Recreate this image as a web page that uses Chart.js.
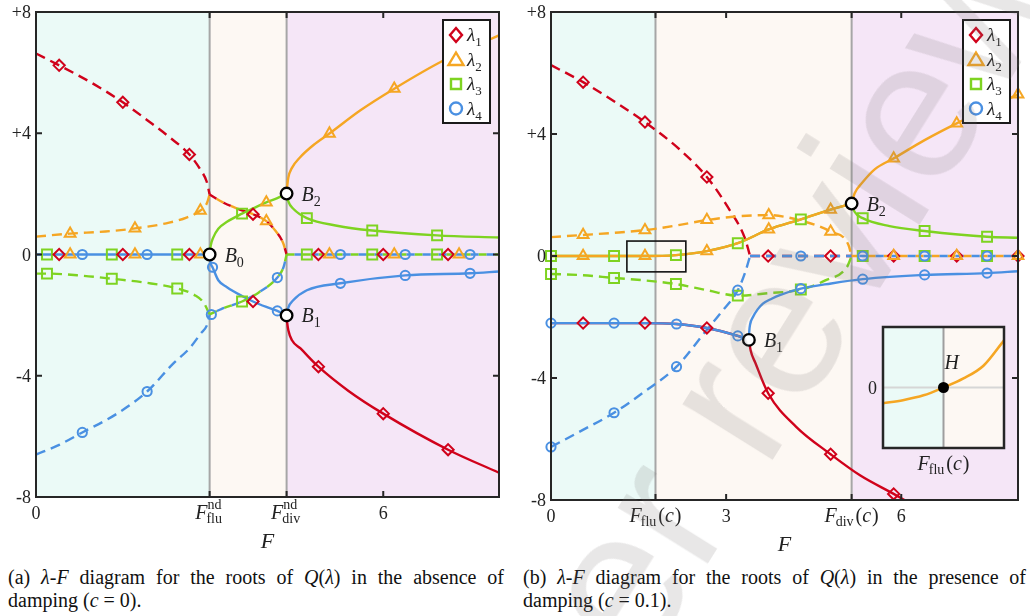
<!DOCTYPE html>
<html>
<head>
<meta charset="utf-8">
<script src="https://cdn.jsdelivr.net/npm/chart.js@4.4.1/dist/chart.umd.min.js"></script>
<style>
  body { margin: 0; width: 1030px; height: 616px; overflow: hidden; position: relative; background: #fff; font-family: "Liberation Serif", serif; }
  canvas { position: absolute; }
  #cL { left: 0; top: 0; }
  #cR { left: 515px; top: 0; }
  #cI { left: 865px; top: 320px; }
  .cap { position: absolute; top: 566px; font-size: 20px; line-height: 23px; text-align: justify; color: #111; }
  #capA { left: 8px; width: 496px; }
  #capB { left: 523px; width: 503px; }
  #wm { position: absolute; left: 512px; top: 708px; font: 200px "Liberation Sans", sans-serif; line-height: 200px;
        white-space: nowrap; color: rgba(120, 110, 115, 0.17); transform-origin: 0 169px; transform: rotate(-58deg); pointer-events: none; }
</style>
</head>
<body>
<canvas id="cL" width="515" height="560"></canvas>
<canvas id="cR" width="515" height="560"></canvas>
<canvas id="cI" width="150" height="160"></canvas>
<div class="cap" id="capA">(a) <i>λ</i>-<i>F</i> diagram for the roots of <i>Q</i>(<i>λ</i>) in the absence of damping (<i>c</i> = 0).</div>
<div class="cap" id="capB">(b) <i>λ</i>-<i>F</i> diagram for the roots of <i>Q</i>(<i>λ</i>) in the presence of damping (<i>c</i> = 0.1).</div>
<div id="wm">Peer review</div>
<script>
// ---------------------------------------------------------------------
// colori / stili delle 4 radici
// ---------------------------------------------------------------------
const RED = '#d0021b', ORANGE = '#f5a623', GREEN = '#7ed321', BLUE = '#4a90e2';
const SERIES_COLORS = [RED, ORANGE, GREEN, BLUE];
const SERIES_STYLES = ['rectRot', 'triangle', 'rect', 'circle'];
const SERIES_SUBS   = ['1', '2', '3', '4'];
const REGION_COLORS = ['#ebfaf7', '#fdf8f3', '#f5e6f7'];

const Y_TICKS       = [-8, -4, 0, 4, 8];
const Y_TICK_LABELS = ['-8', '-4', '0', '+4', '+8'];

// ---------------------------------------------------------------------
// (a) c = 0   -- punti [F, lambda]
// ---------------------------------------------------------------------
const L_REGIONS = [0, 3, 4.33, 8];
const L_XTICKS  = [0, 3, 4.33, 6];
const L_XLABELS = ['0', 'flu|nd', 'div|nd', '6'];

const L_RED_IM_A = [[0,6.63],[0.4,6.24],[1.0,5.62],[1.5,5.02],[2.0,4.32],[2.3,3.88],[2.65,3.3],[2.84,2.8],[2.95,2.4],[3.0,1.98]];
const L_ORG_IM_A = [[0,0.59],[0.59,0.69],[1.2,0.76],[1.71,0.86],[2.3,1.05],[2.6,1.22],[2.84,1.45],[2.95,1.68],[3.0,1.98]];
const L_RO_IM_B  = [[3.0,1.98],[3.25,1.7],[3.5,1.5],[3.75,1.33],[3.98,1.1],[4.13,0.8],[4.27,0.38],[4.33,0]];
const L_GRN_IM_A = [[0,-0.63],[0.19,-0.63],[0.8,-0.7],[1.31,-0.8],[1.9,-0.93],[2.44,-1.12],[2.75,-1.35],[2.9,-1.6],[3.0,-1.98]];
const L_BLU_IM_A = [[0,-6.6],[0.4,-6.28],[0.8,-5.87],[1.4,-5.25],[1.92,-4.52],[2.37,-3.6],[2.65,-3.1],[2.84,-2.62],[2.97,-2.25],[3.0,-1.98]];
const L_GB_IM_B  = [[3.0,-1.98],[3.2,-1.8],[3.56,-1.55],[3.85,-1.25],[4.17,-0.76],[4.28,-0.4],[4.33,0]];
const L_ZERO_A   = [[0,0],[3,0]];
const L_ZERO_C   = [[4.33,0],[8,0]];
const L_GRN_RE_B = [[3.0,0],[3.02,0.3],[3.06,0.55],[3.15,0.85],[3.3,1.08],[3.56,1.35],[3.75,1.52],[3.98,1.72],[4.17,1.86],[4.33,2.01]];
const L_BLU_RE_B = [[3.0,0],[3.02,-0.3],[3.05,-0.42],[3.15,-0.85],[3.3,-1.08],[3.56,-1.37],[3.75,-1.55],[3.98,-1.73],[4.17,-1.86],[4.33,-2.01]];
const L_ORG_RE_C = [[4.33,2.01],[4.34,2.25],[4.36,2.54],[4.42,2.85],[4.56,3.2],[4.8,3.62],[5.07,3.99],[5.6,4.75],[6.19,5.47],[7.04,6.4],[8.0,7.23]];
const L_GRN_RE_C = [[4.33,2.01],[4.36,1.75],[4.45,1.5],[4.68,1.2],[5.2,0.95],[5.81,0.79],[6.93,0.63],[8.0,0.56]];
const L_BLU_RE_C = [[4.33,-2.01],[4.36,-1.75],[4.44,-1.52],[4.68,-1.18],[5.26,-0.95],[6.38,-0.69],[7.5,-0.62],[8,-0.56]];
const L_RED_RE_C = [[4.33,-2.01],[4.34,-2.25],[4.36,-2.5],[4.42,-2.82],[4.57,-3.1],[4.88,-3.7],[5.4,-4.5],[6.0,-5.25],[7.12,-6.44],[8,-7.2]];

const L_DIA = [[0.4,0],[1.5,0],[2.65,0],[0.4,6.24],[1.5,5.02],[2.65,3.3],[3.75,1.33],[3.75,-1.55],[4.88,-3.7],[6.0,-5.25],[7.12,-6.44],[4.88,0],[6.0,0],[7.12,0]];
const L_TRI = [[0.59,0],[1.71,0],[2.84,0],[0.59,0.69],[1.71,0.86],[2.84,1.45],[3.98,1.1],[3.98,1.72],[5.07,3.99],[6.19,5.47],[7.3,6.62],[5.07,0],[6.19,0],[7.31,0]];
const L_SQR = [[0.19,0],[1.31,0],[2.44,0],[0.19,-0.63],[1.31,-0.8],[2.44,-1.12],[3.56,-1.55],[3.56,1.35],[4.68,1.2],[5.81,0.79],[6.93,0.63],[4.68,0],[5.81,0],[6.93,0]];
const L_CIR = [[0.8,0],[1.92,0],[0.8,-5.87],[1.92,-4.52],[3.03,-1.98],[3.05,-0.42],[4.17,-0.76],[4.17,-1.86],[5.26,-0.95],[6.38,-0.69],[7.5,-0.62],[5.26,0],[6.38,0],[7.5,0]];

const L_BIF        = [[3,0],[4.33,-2.01],[4.33,2.01]];
const L_BIF_LABELS = ['0', '1', '2'];

// ---------------------------------------------------------------------
// (b) c = 0.1
// ---------------------------------------------------------------------
const R_REGIONS = [0, 1.79, 5.15, 8];
const R_XTICKS  = [0, 1.79, 3, 5.15, 6];
const R_XLABELS = ['0', 'flu|(c)', '3', 'div|(c)', '6'];

const R_RED_IM   = [[0,6.26],[0.55,5.7],[1.1,5.05],[1.61,4.39],[2.2,3.5],[2.67,2.59],[3.03,1.6],[3.32,0.59],[3.41,0]];
const R_BLU_IM   = [[0,-6.26],[0.5,-5.75],[1.08,-5.14],[1.6,-4.45],[2.15,-3.63],[2.67,-2.42],[2.92,-1.84],[3.2,-1.12],[3.32,-0.57],[3.41,0]];
const R_ZERO_B   = [[3.41,0],[5.15,0]];
const R_ZERO_C   = [[5.15,0],[8,0]];
const R_ORG_IM   = [[0,0.62],[0.55,0.69],[1.08,0.76],[1.61,0.85],[2.15,1.0],[2.67,1.18],[3.2,1.3],[3.73,1.34],[4.3,1.15],[4.79,0.8],[5.09,0.39],[5.15,0]];
const R_GRN_IM   = [[0,-0.59],[0.55,-0.63],[1.08,-0.72],[1.6,-0.8],[2.14,-0.92],[2.67,-1.12],[3.2,-1.3],[3.72,-1.22],[4.28,-1.1],[4.7,-0.8],[5.07,-0.36],[5.15,0]];
const R_ORG_RE_A = [[0,0],[0.55,0],[1.08,0],[1.61,0],[2.14,0.03],[2.67,0.16],[3.2,0.42],[3.73,0.87],[4.28,1.2],[4.79,1.52],[5.15,1.72]];
const R_ORG_RE_C = [[5.15,1.72],[5.2,2.05],[5.33,2.4],[5.55,2.85],[5.87,3.2],[6.4,3.8],[6.95,4.35],[7.5,4.85],[8,5.3]];
const R_GRN_RE_C = [[5.15,1.72],[5.2,1.45],[5.34,1.24],[5.8,0.98],[6.4,0.82],[7.47,0.63],[8,0.6]];
const R_BLU_RE_A = [[0,-2.2],[0.55,-2.2],[1.08,-2.2],[1.61,-2.2],[2.15,-2.23],[2.67,-2.36],[3.2,-2.62],[3.39,-2.75]];
const R_BLU_RE_C = [[3.39,-2.75],[3.395,-2.5],[3.41,-2.25],[3.46,-2.0],[3.54,-1.75],[3.63,-1.56],[3.78,-1.4],[3.92,-1.28],[4.28,-1.07],[4.8,-0.9],[5.34,-0.76],[6.4,-0.62],[7.47,-0.56],[8,-0.5]];
const R_RED_RE_C = [[3.39,-2.75],[3.42,-3.1],[3.5,-3.5],[3.72,-4.5],[4.2,-5.6],[4.79,-6.5],[5.3,-7.2],[5.87,-7.8],[6.1,-8.05]];

const R_DIA = [[0.55,5.7],[1.61,4.39],[2.67,2.59],[0.55,-2.2],[1.61,-2.2],[2.67,-2.36],[3.72,-4.5],[4.79,-6.5],[5.87,-7.8],[3.72,0],[4.79,0],[5.87,0],[6.95,0],[8,0]];
const R_TRI = [[0.55,0.69],[1.61,0.85],[2.67,1.18],[3.73,1.34],[4.79,0.8],[0.55,0],[1.61,0],[2.67,0.16],[3.73,0.87],[4.79,1.52],[5.87,3.2],[6.95,4.35],[8,5.3],[5.87,0],[6.95,0],[8,0]];
const R_SQR = [[0,0],[1.08,0],[2.14,0.03],[3.2,0.42],[4.28,1.2],[5.34,1.24],[6.4,0.82],[7.47,0.63],[0,-0.59],[1.08,-0.72],[2.14,-0.92],[3.2,-1.3],[4.28,-1.1],[5.34,0],[6.4,0],[7.47,0]];
const R_CIR = [[0,-2.2],[1.08,-2.2],[2.15,-2.23],[3.2,-2.62],[4.28,-1.07],[5.34,-0.76],[6.4,-0.62],[7.47,-0.56],[0,-6.26],[1.08,-5.14],[2.15,-3.63],[3.2,-1.12],[4.28,0],[5.34,0],[6.4,0],[7.47,0]];

const R_BIF        = [[3.39,-2.75],[5.15,1.72]];
const R_BIF_LABELS = ['1', '2'];
const R_ZOOM_BOX   = [1.3, 2.31, -0.52, 0.49];   // xmin, xmax, ymin, ymax

// inset: ingrandimento attorno a F_flu(c)
const INSET_X = [-1, -0.67, -0.33, 0, 0.33, 0.66, 1.0];
const INSET_Y = [-0.26, -0.21, -0.13, 0, 0.15, 0.36, 0.78];

// ---------------------------------------------------------------------
// helpers
// ---------------------------------------------------------------------
const SERIF = '"Liberation Serif", serif';
const pts = arr => arr.map(p => ({ x: p[0], y: p[1] }));

function lineDs(data, color, dash, offset) {
  return {
    data: pts(data), showLine: true, borderColor: color, borderWidth: 2.4,
    pointRadius: 0, pointHoverRadius: 0, fill: false,
    borderDash: dash || [], borderDashOffset: offset || 0,
    cubicInterpolationMode: 'monotone',
  };
}
function markDs(data, i) {
  const r = [5.6, 6.2, 7, 4.6][i];
  return {
    data: pts(data), showLine: false, clip: false,
    pointStyle: SERIES_STYLES[i], pointRadius: r, pointHoverRadius: r,
    pointBorderColor: SERIES_COLORS[i], pointBackgroundColor: 'rgba(0,0,0,0)', pointBorderWidth: 2,
  };
}
function bifDs(data) {
  return {
    data: pts(data), showLine: false, clip: false, pointStyle: 'circle',
    pointRadius: 5.8, pointHoverRadius: 5.8, pointBackgroundColor: '#fff',
    pointBorderColor: '#000', pointBorderWidth: 2.3,
  };
}

function drawFLabel(ctx, cx, base, sub, extra) {
  ctx.font = `italic 20px ${SERIF}`;
  const wF = ctx.measureText('F').width;
  ctx.font = `14px ${SERIF}`;
  const wSub = ctx.measureText(sub).width;
  const isArg = extra === '(c)';
  const wSup = !isArg ? ctx.measureText(extra).width : 0;
  let wArg = 0;
  if (isArg) {
    ctx.font = `20px ${SERIF}`;  wArg = ctx.measureText('()').width;
    ctx.font = `italic 20px ${SERIF}`; wArg += ctx.measureText('c').width + 1;
  }
  const wS = Math.max(wSub, wSup);
  let x = cx - (wF + wS + wArg + 1) / 2;
  ctx.textAlign = 'left';
  ctx.font = `italic 20px ${SERIF}`; ctx.fillText('F', x, base);
  ctx.font = `14px ${SERIF}`;
  ctx.fillText(sub, x + wF - 1, base + 4);
  if (!isArg) ctx.fillText(extra, x + wF, base - 10);
  x += wF + wS + 1;
  if (isArg) {
    ctx.font = `20px ${SERIF}`; ctx.fillText('(', x, base); x += ctx.measureText('(').width;
    ctx.font = `italic 20px ${SERIF}`; ctx.fillText('c', x, base); x += ctx.measureText('c').width + 1;
    ctx.font = `20px ${SERIF}`; ctx.fillText(')', x, base);
  }
}

function drawSubLabel(ctx, x, base, main, sub, size) {
  ctx.textAlign = 'left';
  ctx.font = `italic ${size}px ${SERIF}`;
  ctx.fillText(main, x, base);
  const w = ctx.measureText(main).width;
  ctx.font = `${Math.round(size * 0.68)}px ${SERIF}`;
  ctx.fillText(sub, x + w, base + 5);
}

function legendMarker(ctx, kind, x, y, color) {
  ctx.save();
  ctx.strokeStyle = color; ctx.lineWidth = 2.4; ctx.beginPath();
  if (kind === 'rectRot') { ctx.moveTo(x, y - 7); ctx.lineTo(x + 6, y); ctx.lineTo(x, y + 7); ctx.lineTo(x - 6, y); ctx.closePath(); }
  else if (kind === 'triangle') { ctx.moveTo(x, y - 7); ctx.lineTo(x + 7.5, y + 5.5); ctx.lineTo(x - 7.5, y + 5.5); ctx.closePath(); }
  else if (kind === 'rect') { ctx.rect(x - 5, y - 5, 10, 10); }
  else { ctx.arc(x, y, 6, 0, Math.PI * 2); }
  ctx.stroke();
  ctx.restore();
}

// plugin di decorazione stile MATLAB (sfondi, cornice, tick interni, legenda)
function decoPlugin(cfg) {
  return {
    id: 'deco',
    beforeDatasetsDraw(chart) {
      const { ctx, chartArea: a, scales: { x } } = chart;
      ctx.save();
      for (let i = 0; i < cfg.regions.length - 1; i++) {
        const x0 = x.getPixelForValue(cfg.regions[i]), x1 = x.getPixelForValue(cfg.regions[i + 1]);
        ctx.fillStyle = REGION_COLORS[i];
        ctx.fillRect(x0, a.top, x1 - x0, a.bottom - a.top);
      }
      ctx.strokeStyle = '#a6a6a6'; ctx.lineWidth = 2;
      cfg.regions.slice(1, -1).forEach(v => {
        const px = x.getPixelForValue(v);
        ctx.beginPath(); ctx.moveTo(px, a.top); ctx.lineTo(px, a.bottom); ctx.stroke();
      });
      ctx.restore();
    },
    afterDatasetsDraw(chart) {
      if (!cfg.box) return;
      const { ctx, scales: { x, y } } = chart;
      const [x0, x1, y0, y1] = cfg.box;
      ctx.save();
      ctx.strokeStyle = '#111'; ctx.lineWidth = 1.6;
      const px0 = x.getPixelForValue(x0), px1 = x.getPixelForValue(x1);
      const py0 = y.getPixelForValue(y1), py1 = y.getPixelForValue(y0);
      ctx.strokeRect(px0, py0, px1 - px0, py1 - py0);
      ctx.restore();
    },
    afterDraw(chart) {
      const { ctx, chartArea: a, scales: { x, y } } = chart;
      ctx.save();
      // cornice
      ctx.strokeStyle = '#262626'; ctx.lineWidth = 2;
      ctx.strokeRect(a.left, a.top, a.right - a.left, a.bottom - a.top);
      // tick interni
      ctx.beginPath();
      cfg.xticks.forEach(v => {
        const px = x.getPixelForValue(v);
        ctx.moveTo(px, a.bottom); ctx.lineTo(px, a.bottom - 6);
        ctx.moveTo(px, a.top); ctx.lineTo(px, a.top + 6);
      });
      Y_TICKS.forEach(v => {
        const py = y.getPixelForValue(v);
        ctx.moveTo(a.left, py); ctx.lineTo(a.left + 6, py);
        ctx.moveTo(a.right, py); ctx.lineTo(a.right - 6, py);
      });
      ctx.stroke();
      // etichette
      ctx.fillStyle = '#222';
      ctx.textBaseline = 'alphabetic';
      ctx.font = `18px ${SERIF}`; ctx.textAlign = 'right';
      Y_TICKS.forEach((v, i) => ctx.fillText(Y_TICK_LABELS[i], a.left - 5, y.getPixelForValue(v) + 6));
      cfg.xticks.forEach((v, i) => {
        const px = x.getPixelForValue(v), lab = cfg.xlabels[i];
        if (lab.includes('|')) {
          const [sub, extra] = lab.split('|');
          drawFLabel(ctx, px, a.bottom + 22, sub, extra);
        } else {
          ctx.font = `18px ${SERIF}`; ctx.textAlign = 'center';
          ctx.fillText(lab, px, a.bottom + 22);
        }
      });
      ctx.font = `italic 22px ${SERIF}`; ctx.textAlign = 'center';
      ctx.fillText('F', (a.left + a.right) / 2, a.bottom + 51);
      // etichette biforcazioni
      cfg.bif.forEach((p, i) => {
        drawSubLabel(ctx, x.getPixelForValue(p[0]) + 15, y.getPixelForValue(p[1]) + 7, 'B', cfg.bifLabels[i], 20);
      });
      // legenda
      const lw = 47, lh = 103, lx = a.right - cfg.legendRight - lw, ly = a.top + 8;
      ctx.fillStyle = '#fff'; ctx.fillRect(lx, ly, lw, lh);
      ctx.strokeStyle = '#1a1a1a'; ctx.lineWidth = 2; ctx.strokeRect(lx, ly, lw, lh);
      SERIES_STYLES.forEach((s, i) => {
        const cy = ly + 15 + i * 24.5;
        legendMarker(ctx, s, lx + 13, cy, SERIES_COLORS[i]);
        ctx.fillStyle = '#222';
        drawSubLabel(ctx, lx + 24, cy + 6, 'λ', SERIES_SUBS[i], 19);
      });
      ctx.restore();
    },
  };
}

function baseOptions(padding) {
  return {
    responsive: false, animation: false, devicePixelRatio: 1, events: [],
    layout: { padding },
    scales: {
      x: { type: 'linear', min: 0, max: 8, display: false },
      y: { type: 'linear', min: -8, max: 8, display: false },
    },
    plugins: { legend: { display: false }, tooltip: { enabled: false } },
  };
}

const DASH = [10, 6];
const ALT  = [8, 8];

// ---------------------------------------------------------------------
// grafico (a)
// ---------------------------------------------------------------------
const dsL = [
  lineDs(L_RED_IM_A, RED, DASH),
  lineDs(L_ORG_IM_A, ORANGE, DASH),
  lineDs(L_GRN_IM_A, GREEN, DASH),
  lineDs(L_BLU_IM_A, BLUE, DASH),
  lineDs(L_RO_IM_B, RED, ALT),
  lineDs(L_RO_IM_B, ORANGE, ALT, 8),
  lineDs(L_GB_IM_B, GREEN, ALT),
  lineDs(L_GB_IM_B, BLUE, ALT, 8),
  lineDs(L_ZERO_C, GREEN, ALT),
  lineDs(L_ZERO_C, BLUE, ALT, 8),
  lineDs(L_ZERO_A, BLUE),
  lineDs(L_GRN_RE_B, GREEN),
  lineDs(L_BLU_RE_B, BLUE),
  lineDs(L_ORG_RE_C, ORANGE),
  lineDs(L_GRN_RE_C, GREEN),
  lineDs(L_RED_RE_C, RED),
  lineDs(L_BLU_RE_C, BLUE),
  markDs(L_SQR, 2),
  markDs(L_DIA, 0),
  markDs(L_TRI, 1),
  markDs(L_CIR, 3),
  bifDs(L_BIF),
].reverse();   // Chart.js disegna il dataset 0 per ultimo

new Chart(document.getElementById('cL'), {
  type: 'scatter',
  data: { datasets: dsL },
  options: baseOptions({ left: 36, top: 12, right: 16, bottom: 63 }),
  plugins: [decoPlugin({ regions: L_REGIONS, xticks: L_XTICKS, xlabels: L_XLABELS, bif: L_BIF, bifLabels: L_BIF_LABELS, legendRight: 9 })],
});

// ---------------------------------------------------------------------
// grafico (b)
// ---------------------------------------------------------------------
const dsR = [
  lineDs(R_RED_IM, RED, DASH),
  lineDs(R_ORG_IM, ORANGE, DASH),
  lineDs(R_GRN_IM, GREEN, DASH),
  lineDs(R_BLU_IM, BLUE, DASH),
  lineDs(R_ZERO_B, RED, DASH),
  lineDs(R_ZERO_B, BLUE, DASH),
  lineDs(R_ZERO_C, ORANGE, ALT),
  lineDs(R_ZERO_C, BLUE, ALT, 8),
  lineDs(R_BLU_RE_A, RED),
  lineDs(R_BLU_RE_A, BLUE),
  lineDs(R_ORG_RE_A, GREEN),
  lineDs(R_ORG_RE_A, ORANGE),
  lineDs(R_ORG_RE_C, ORANGE),
  lineDs(R_GRN_RE_C, GREEN),
  lineDs(R_RED_RE_C, RED),
  lineDs(R_BLU_RE_C, BLUE),
  markDs(R_SQR, 2),
  markDs(R_DIA, 0),
  markDs(R_TRI, 1),
  markDs(R_CIR, 3),
  bifDs(R_BIF),
].reverse();

new Chart(document.getElementById('cR'), {
  type: 'scatter',
  data: { datasets: dsR },
  options: baseOptions({ left: 36, top: 12, right: 12, bottom: 60 }),
  plugins: [decoPlugin({ regions: R_REGIONS, xticks: R_XTICKS, xlabels: R_XLABELS, bif: R_BIF, bifLabels: R_BIF_LABELS, legendRight: 8, box: R_ZOOM_BOX })],
});

// ---------------------------------------------------------------------
// inset (punto di Hopf H)
// ---------------------------------------------------------------------
const insetPlugin = {
  id: 'inset',
  beforeDatasetsDraw(chart) {
    const { ctx, chartArea: a, scales: { x, y } } = chart;
    const cx = x.getPixelForValue(0), cy = y.getPixelForValue(0);
    ctx.save();
    ctx.fillStyle = REGION_COLORS[0]; ctx.fillRect(a.left, a.top, cx - a.left, a.bottom - a.top);
    ctx.fillStyle = REGION_COLORS[1]; ctx.fillRect(cx, a.top, a.right - cx, a.bottom - a.top);
    ctx.lineWidth = 2;
    ctx.strokeStyle = '#d6d6d6';
    ctx.beginPath(); ctx.moveTo(a.left, cy); ctx.lineTo(a.right, cy); ctx.stroke();
    ctx.strokeStyle = '#9e9e9e';
    ctx.beginPath(); ctx.moveTo(cx, a.top); ctx.lineTo(cx, a.bottom); ctx.stroke();
    ctx.restore();
  },
  afterDraw(chart) {
    const { ctx, chartArea: a, scales: { x, y } } = chart;
    const cx = x.getPixelForValue(0), cy = y.getPixelForValue(0);
    ctx.save();
    ctx.strokeStyle = '#262626'; ctx.lineWidth = 2.5;
    ctx.strokeRect(a.left, a.top, a.right - a.left, a.bottom - a.top);
    ctx.fillStyle = '#222';
    ctx.font = `18px ${SERIF}`; ctx.textAlign = 'right';
    ctx.fillText('0', a.left - 6, cy + 6);
    ctx.font = `italic 20px ${SERIF}`; ctx.textAlign = 'left';
    ctx.fillText('H', cx + 1, cy - 19);
    drawFLabel(ctx, cx, a.bottom + 22, 'flu', '(c)');
    ctx.restore();
  },
};

new Chart(document.getElementById('cI'), {
  type: 'scatter',
  data: {
    datasets: [
      { data: [{ x: 0, y: 0 }], showLine: false, clip: false, pointRadius: 5.5, pointBackgroundColor: '#000', pointBorderColor: '#000', pointBorderWidth: 0 },
      { data: INSET_X.map((v, i) => ({ x: v, y: INSET_Y[i] })), showLine: true, borderColor: ORANGE, borderWidth: 2.6,
        pointRadius: 0, cubicInterpolationMode: 'monotone', fill: false },
    ],
  },
  options: {
    responsive: false, animation: false, devicePixelRatio: 1, events: [],
    layout: { padding: { left: 18, top: 7, right: 11, bottom: 32 } },
    scales: {
      x: { type: 'linear', min: -1, max: 1, display: false },
      y: { type: 'linear', min: -1, max: 1, display: false },
    },
    plugins: { legend: { display: false }, tooltip: { enabled: false } },
  },
  plugins: [insetPlugin],
});
</script>
</body>
</html>
